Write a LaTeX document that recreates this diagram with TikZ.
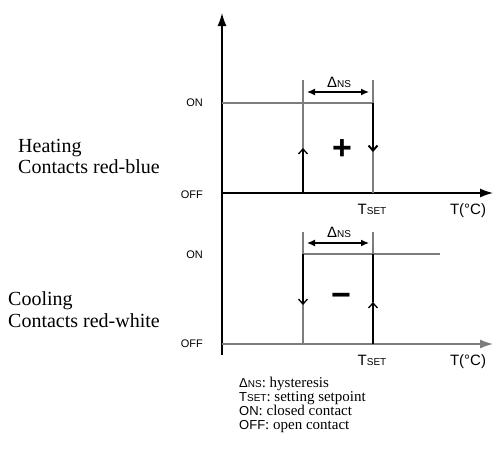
\documentclass[tikz,border=0pt]{standalone}
\usepackage{fontspec}
\setmainfont{Liberation Serif}
\setsansfont{Liberation Sans}
\usetikzlibrary{arrows.meta}
\definecolor{linegray}{RGB}{125,125,125}
\newcommand{\subsm}[1]{{\fontsize{10}{10}\selectfont #1}}
\newcommand{\tset}{T\subsm{SET}}
\newcommand{\dns}{Δ\subsm{NS}}
\tikzset{
  axis/.style={line width=1.3pt,-{Latex[length=13pt,width=9pt]}},
  level/.style={line width=1.3pt,draw=linegray},
  boldseg/.style={line width=2pt,draw=black},
  barb/.style={line width=1.3pt,-{Straight Barb[length=5pt,width=9pt]}},
  hyst/.style={line width=1.3pt,{Latex[length=8pt,width=7pt]}-{Latex[length=8pt,width=7pt]}},
  state/.style={font=\sffamily\fontsize{11}{11}\selectfont,anchor=east,inner sep=0pt},
  tick/.style={font=\sffamily\fontsize{15}{15}\selectfont,anchor=base,inner sep=0pt},
  side/.style={font=\fontsize{20}{21}\selectfont,anchor=base west,inner sep=0pt},
  legend/.style={font=\fontsize{15}{14}\selectfont,anchor=base west,inner sep=0pt},
  sign/.style={font=\sffamily\bfseries\fontsize{34}{34}\selectfont,inner sep=0pt},
}
\newcommand{\legkey}[1]{\textsf{\fontsize{13}{13}\selectfont #1}}
\begin{document}
\begin{tikzpicture}[x=1pt,y=-1pt]
\useasboundingbox (0,0) rectangle (493,459);
% axes
\coordinate (ybot)  at (222,355);
\coordinate (ytop)  at (222,13);
\coordinate (o1)    at (222,193);
\coordinate (x1end) at (493,193);
\coordinate (o2)    at (222,344);
\coordinate (x2end) at (493,344);
\draw [axis] (ybot) -- (ytop);
\draw [axis] (o1) -- (x1end);
\draw [axis,draw=linegray] (o2) -- (x2end);

% heating
\coordinate (h_on)   at (222,103);
\coordinate (h_atop) at (303,80);
\coordinate (h_aarr) at (303,148);
\coordinate (h_abot) at (303,193);
\coordinate (h_btop) at (373,80);
\coordinate (h_bon)  at (373,103);
\coordinate (h_barr) at (373,152);
\coordinate (h_bbot) at (373,193);
\coordinate (h_dl)   at (307,92);
\coordinate (h_dr)   at (369,92);
\draw [level] (h_on) -- (h_bon);
\draw [level] (h_atop) -- (h_abot);
\draw [level] (h_btop) -- (h_bbot);
\draw [barb] (h_abot) -- (h_aarr);
\draw [boldseg,barb,line width=2pt] (h_bon) -- (h_barr);
\draw [hyst] (h_dl) -- (h_dr);
\node (h_dlab)  at (339,87)  [tick] {\dns};
\node (h_plus)  at (342,150) [sign] {+};
\node (h_tset)  at (372,214) [tick] {\tset};
\node (h_temp)  at (468,214) [tick] {T(°C)};
\node (h_onl)   at (203,103) [state] {ON};
\node (h_offl)  at (203,195) [state] {OFF};
\node (heat1)   at (18,152)  [side] {Heating};
\node (heat2)   at (18,173)  [side] {Contacts red-blue};

% cooling
\coordinate (c_atop) at (303,232);
\coordinate (c_aon)  at (303,254);
\coordinate (c_aarr) at (303,305);
\coordinate (c_abot) at (303,344);
\coordinate (c_btop) at (373,232);
\coordinate (c_bon)  at (373,254);
\coordinate (c_barr) at (373,302);
\coordinate (c_bbot) at (373,344);
\coordinate (c_end)  at (440,254);
\coordinate (c_dl)   at (307,243);
\coordinate (c_dr)   at (369,243);
\draw [level] (c_aon) -- (c_end);
\draw [level] (c_atop) -- (c_abot);
\draw [level] (c_btop) -- (c_bbot);
\draw [barb] (c_aon) -- (c_aarr);
\draw [barb] (c_bbot) -- (c_barr);
\draw [boldseg] (c_barr) -- (c_bon);
\draw [hyst] (c_dl) -- (c_dr);
\node (c_dlab)  at (339,237) [tick] {\dns};
\node (c_minus) at (341,300) [sign] {−};
\node (c_tset)  at (372,365) [tick] {\tset};
\node (c_temp)  at (468,365) [tick] {T(°C)};
\node (c_onl)   at (203,255) [state] {ON};
\node (c_offl)  at (203,344) [state] {OFF};
\node (cool1)   at (8,305)   [side] {Cooling};
\node (cool2)   at (8,327)   [side] {Contacts red-white};

% legend
\node (leg1) at (239,387) [legend] {\legkey{\dns}: hysteresis};
\node (leg2) at (239,401) [legend] {\legkey{\tset}: setting setpoint};
\node (leg3) at (239,415) [legend] {\legkey{ON}: closed contact};
\node (leg4) at (239,429) [legend] {\legkey{OFF}: open contact};
\end{tikzpicture}
\end{document}
